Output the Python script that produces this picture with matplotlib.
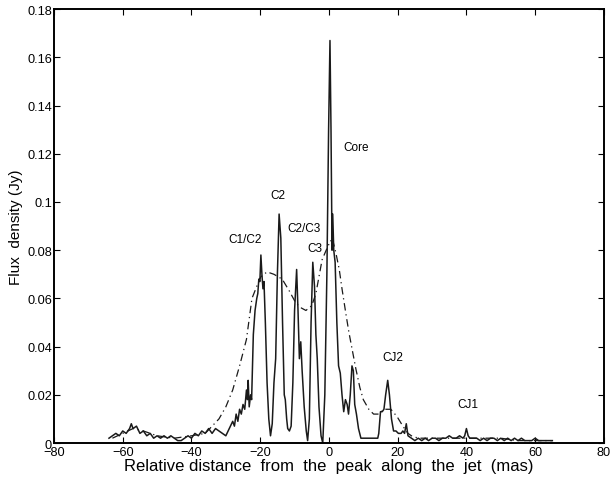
import matplotlib
matplotlib.use("Agg")
import matplotlib.pyplot as plt
from matplotlib.ticker import FuncFormatter

plt.rcParams['font.family'] = ['Liberation Sans', 'DejaVu Sans']

# Solid: high-resolution profile (rows of 10)
x_solid = [-64, -63, -62, -61, -60, -59, -58, -57.5, -57, -56,
           -55, -54, -53, -52, -51, -50, -49, -48, -47, -46,
           -45, -44, -43, -42, -41, -40, -39, -38, -37, -36,
           -35, -34, -33, -32, -31, -30, -29, -28, -27.5, -27,
           -26.5, -26, -25.5, -25, -24.5, -24, -23.7, -23.5, -23.2, -22.8,
           -22.5, -22, -21.5, -21, -20.7, -20.4, -20.1, -19.8, -19.5, -19.2,
           -18.9, -18.5, -18, -17.5, -17, -16.5, -16, -15.5, -15, -14.5,
           -14, -13.5, -13, -12.7, -12.3, -12, -11.5, -11, -10.5, -10,
           -9.4, -9, -8.6, -8.2, -7.8, -7.2, -6.6, -6.2, -5.7, -5.2,
           -4.7, -4.2, -3.8, -3.4, -2.9, -2.3, -1.8, -1.2, -0.6, -0.1,
           0.3, 0.6, 0.9, 1.1, 1.4, 1.8, 2.3, 2.8, 3.3, 3.8,
           4.3, 4.8, 5.3, 5.7, 6.2, 6.7, 7.1, 7.5, 8, 8.6,
           9.3, 10, 11, 12, 13, 14.2, 14.5, 15, 15.5, 16,
           16.5, 17.1, 17.6, 18.2, 18.8, 19.5, 20.2, 21, 21.5, 22,
           22.5, 23, 24, 25, 26, 27, 28, 29, 30, 31,
           32, 33, 34, 35, 36, 37, 38, 39, 39.5, 40,
           40.5, 41, 42, 43, 44, 45, 46, 47, 48, 49,
           50, 51, 52, 53, 54, 55, 56, 57, 58, 59,
           60, 61, 62, 63, 64, 65]
y_solid = [0.002, 0.003, 0.004, 0.003, 0.005, 0.004, 0.006, 0.008, 0.006, 0.007,
           0.004, 0.005, 0.003, 0.004, 0.002, 0.003, 0.002, 0.003, 0.002, 0.003,
           0.002, 0.001, 0.001, 0.002, 0.003, 0.002, 0.004, 0.003, 0.005, 0.004,
           0.006, 0.004, 0.006, 0.005, 0.004, 0.003, 0.006, 0.009, 0.007, 0.012,
           0.009, 0.014, 0.012, 0.016, 0.014, 0.022, 0.018, 0.026, 0.015, 0.020,
           0.018, 0.045, 0.055, 0.060, 0.062, 0.068, 0.067, 0.078, 0.070, 0.064,
           0.067, 0.050, 0.025, 0.010, 0.003, 0.008, 0.025, 0.035, 0.070, 0.095,
           0.085, 0.050, 0.020, 0.018, 0.010, 0.006, 0.005, 0.007, 0.025, 0.055,
           0.072, 0.055, 0.035, 0.042, 0.030, 0.015, 0.005, 0.001, 0.010, 0.050,
           0.075, 0.065, 0.045, 0.035, 0.015, 0.003, 0.000, 0.020, 0.070, 0.130,
           0.167, 0.130, 0.080, 0.095, 0.080, 0.075, 0.050, 0.032, 0.029, 0.020,
           0.013, 0.018, 0.016, 0.012, 0.020, 0.032, 0.030, 0.016, 0.012, 0.006,
           0.002, 0.002, 0.002, 0.002, 0.002, 0.002, 0.004, 0.013, 0.013, 0.014,
           0.020, 0.026, 0.020, 0.010, 0.005, 0.005, 0.004, 0.004, 0.005, 0.004,
           0.008, 0.003, 0.002, 0.001, 0.002, 0.001, 0.002, 0.001, 0.002, 0.002,
           0.001, 0.002, 0.002, 0.003, 0.002, 0.002, 0.003, 0.002, 0.003, 0.006,
           0.003, 0.002, 0.002, 0.002, 0.001, 0.002, 0.001, 0.002, 0.002, 0.001,
           0.002, 0.001, 0.002, 0.001, 0.002, 0.001, 0.002, 0.001, 0.001, 0.001,
           0.002, 0.001, 0.001, 0.001, 0.001, 0.001]

# Dash-dot: low-resolution profile
x_dash = [-63, -60, -57, -54, -50, -45, -40, -36, -34, -32,
          -30, -28, -26, -24, -22.4, -21, -19.8, -18, -16, -13.6,
          -11.5, -9.6, -8, -6.7, -5, -3.8, -2, -0.5, 0.5, 1.3,
          2, 3, 3.8, 5, 5.8, 7, 7.8, 9, 10, 11.6,
          13, 14.5, 16, 18, 19.8, 21.5, 23, 24, 26, 30,
          35, 40, 45, 50, 55, 60, 65]
y_dash = [0.002, 0.004, 0.006, 0.005, 0.003, 0.002, 0.003, 0.004, 0.007, 0.010,
          0.015, 0.022, 0.032, 0.043, 0.060, 0.065, 0.069, 0.071, 0.070, 0.068,
          0.063, 0.058, 0.056, 0.055, 0.057, 0.062, 0.076, 0.081, 0.084, 0.083,
          0.079, 0.072, 0.064, 0.053, 0.046, 0.037, 0.031, 0.023, 0.018, 0.014,
          0.012, 0.012, 0.014, 0.014, 0.011, 0.007, 0.004, 0.003, 0.002, 0.002,
          0.002, 0.002, 0.002, 0.002, 0.001, 0.001, 0.001]

labels = ["Core", "C2", "C1/C2", "C2/C3", "C3", "CJ2", "CJ1"]
label_x = [7.8, -14.8, -24.4, -7.3, -4.1, 18.6, 40.4]
label_y = [0.123, 0.1027, 0.0845, 0.0894, 0.081, 0.0356, 0.016]

x_ticks = [-80, -60, -40, -20, 0, 20, 40, 60, 80]
y_ticks = [0, 0.02, 0.04, 0.06, 0.08, 0.1, 0.12, 0.14, 0.16, 0.18]

fig = plt.figure(figsize=(6.1, 4.85), dpi=100)
ax = fig.add_axes([0.0885, 0.0845, 0.9015, 0.8945])

ax.plot(x_solid, y_solid, color='#1a1a1a', lw=1.1)
ax.plot(x_dash, y_dash, color='#1a1a1a', lw=0.9, linestyle=(0, (6, 3, 1, 3)))

for t, lx, ly in zip(labels, label_x, label_y):
    ax.text(lx, ly, t, ha='center', va='center', fontsize=8.5)

ax.set_xlim(-80, 80)
ax.set_ylim(0, 0.18)
ax.set_xticks(x_ticks)
ax.set_yticks(y_ticks)
ax.yaxis.set_major_formatter(FuncFormatter(lambda v, p: "0" if v == 0 else ("%g" % round(v, 2))))
ax.tick_params(direction='in', top=True, right=True, length=4, width=0.8, labelsize=9.2, pad=2)
ax.tick_params(axis='y', pad=1.5)
for s in ax.spines.values():
    s.set_linewidth(1.4)

ax.set_xlabel("Relative distance  from  the  peak  along  the  jet  (mas)", fontsize=12, labelpad=0)
ax.set_ylabel("Flux  density (Jy)", fontsize=11, labelpad=3)

fig.savefig("out.png", dpi=100)
